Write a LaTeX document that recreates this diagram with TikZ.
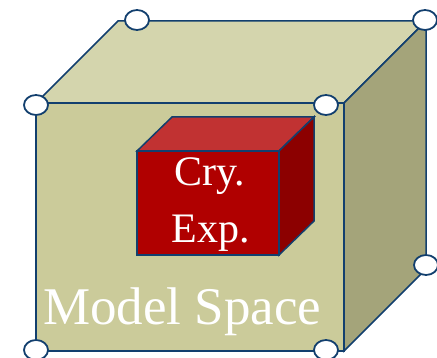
\documentclass[tikz,border=0pt]{standalone}
\usepackage{fontspec}
\setmainfont{Liberation Serif}
\usetikzlibrary{shapes.geometric}
\definecolor{topface}{HTML}{D4D5AD}
\definecolor{frontface}{HTML}{CBCB9A}
\definecolor{sideface}{HTML}{A4A47A}
\definecolor{edgeblue}{HTML}{123F6E}
\definecolor{redfront}{HTML}{B00000}
\definecolor{redtop}{HTML}{C13232}
\definecolor{redside}{HTML}{8C0000}
\begin{document}
\begin{tikzpicture}[x=1pt,y=-1pt,
  face/.style={draw=edgeblue,line width=1.5pt,line join=miter},
  vertexnode/.style={ellipse,draw=edgeblue,fill=white,line width=1.8pt,minimum width=24pt,minimum height=20pt,inner sep=0pt},
  whitetext/.style={text=white,inner sep=0pt}]
\useasboundingbox (0,0) rectangle (437,358);
% outer cube
\filldraw[face,fill=topface] (36,103) -- (118,21) -- (426,21) -- (344,103) -- cycle;
\filldraw[face,fill=sideface] (344,103) -- (426,21) -- (426,269) -- (344,351) -- cycle;
\filldraw[face,fill=frontface] (36,103) rectangle (344,351);
% inner red cube
\filldraw[face,fill=redtop] (137,151) -- (172,117) -- (314,117) -- (279,151) -- cycle;
\filldraw[face,fill=redside] (279,151) -- (314,117) -- (314,221) -- (279,255) -- cycle;
\filldraw[face,fill=redfront] (137,151) rectangle (279,255);
% texts
\node[whitetext,anchor=base,font=\fontsize{42}{42}\selectfont] (cry) at (210,186) {Cry.};
\node[whitetext,anchor=base,font=\fontsize{42}{42}\selectfont] (exp) at (210.5,243) {Exp.};
\node[whitetext,anchor=base west,font=\fontsize{53}{53}\selectfont] (model) at (43,325) {Model Space};
% vertices
\node[vertexnode] (v1) at (36,105) {};
\node[vertexnode] (v2) at (137,20) {};
\node[vertexnode] (v3) at (425,20) {};
\node[vertexnode] (v4) at (326,105) {};
\node[vertexnode] (v5) at (426,265) {};
\node[vertexnode] (v6) at (36,350) {};
\node[vertexnode] (v7) at (326,350) {};
\end{tikzpicture}
\end{document}
